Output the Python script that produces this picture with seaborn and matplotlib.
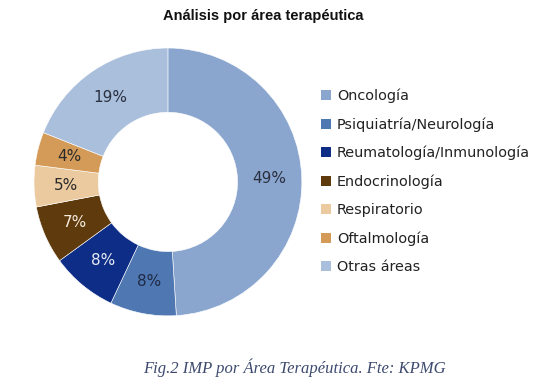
import seaborn as sns
import matplotlib.pyplot as plt
from matplotlib.patches import Patch
import numpy as np

# data
areas = ["Oncología", "Psiquiatría/Neurología", "Reumatología/Inmunología",
         "Endocrinología", "Respiratorio", "Oftalmología", "Otras áreas"]
shares = [49, 8, 8, 7, 5, 4, 19]
colores = ["#8aa6cf", "#4f78b3", "#0e2d86", "#5e3a0c", "#eccaa0", "#d49b58", "#aabfdc"]
text_colors = ["#2a3040", "#1f2a44", "#e8ecf5", "#f3e9dc", "#2a2a2a", "#2a2a2a", "#2a3040"]

sns.set_theme(style="white")
plt.rcParams['font.family'] = ['DejaVu Sans']

fig = plt.figure(figsize=(5.5, 3.88), dpi=100)
ax = fig.add_axes([0.0618, 0.1856, 0.487, 0.691])

wedges, texts = ax.pie(shares, colors=colores, startangle=90, counterclock=False,
                       radius=1.0, wedgeprops=dict(width=0.48, edgecolor="white", linewidth=0.4))

for w, v, tc in zip(wedges, shares, text_colors):
    ang = np.deg2rad((w.theta1 + w.theta2) / 2)
    r = 0.76
    ax.text(r * np.cos(ang), r * np.sin(ang), f"{v}%", ha="center", va="center",
            fontsize=11, color=tc)

ax.set_xlim(-1, 1)
ax.set_ylim(-1, 1)
ax.set_aspect("equal")
ax.axis("off")

handles = [Patch(facecolor=c, edgecolor="none") for c in colores]
fig.legend(handles, areas, loc="upper left", bbox_to_anchor=(0.56, 0.805),
           frameon=False, fontsize=10.4, handlelength=0.7, handleheight=0.7,
           handletextpad=0.4, labelspacing=0.98, labelcolor="#222222")

fig.text(0.478, 0.96, "Análisis por área terapéutica", ha="center", va="center",
         fontsize=10.5, fontweight="bold", family="Liberation Sans", color="#111111")
fig.text(0.535, 0.052, "Fig.2 IMP por Área Terapéutica. Fte: KPMG", ha="center", va="center",
         fontsize=12, style="italic", family="Liberation Serif", color="#3d4a6e")

fig.savefig("out.png", dpi=100)
